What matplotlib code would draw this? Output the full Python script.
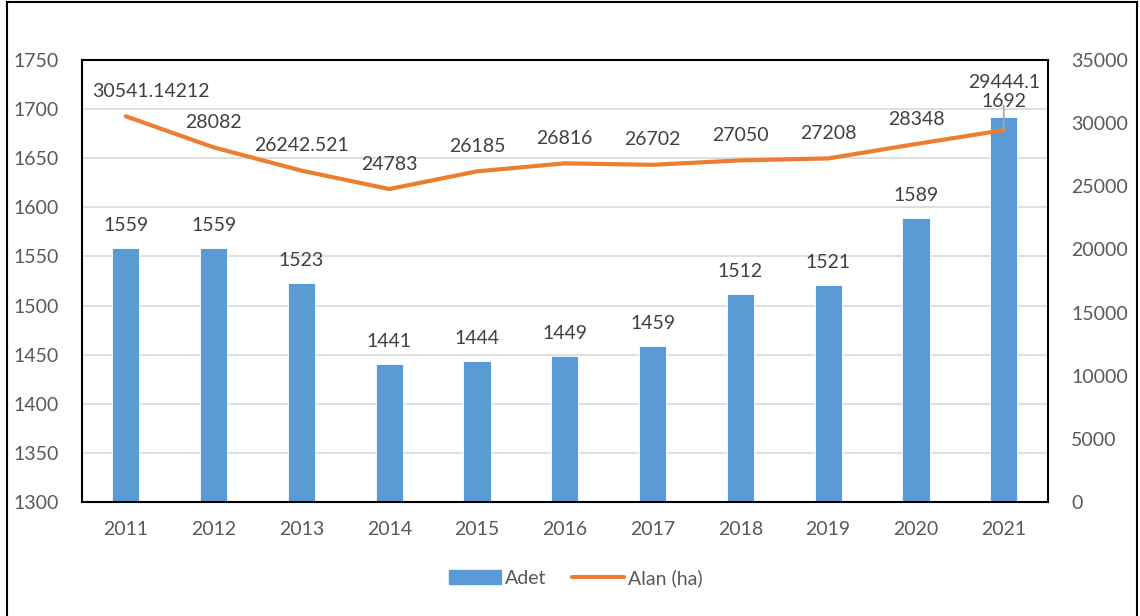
import matplotlib.pyplot as plt
from matplotlib.patches import Rectangle
from matplotlib.lines import Line2D

years = ['2011', '2012', '2013', '2014', '2015', '2016', '2017', '2018', '2019', '2020', '2021']
adet = [1559, 1559, 1523, 1441, 1444, 1449, 1459, 1512, 1521, 1589, 1692]
alan = [30541.14212, 28082, 26242.521, 24783, 26185, 26816, 26702, 27050, 27208, 28348, 29444.1]
alan_labels = ['30541.14212', '28082', '26242.521', '24783', '26185', '26816', '26702',
               '27050', '27208', '28348', '29444.1']

plt.rcParams['font.family'] = ['Lato', 'DejaVu Sans']
grey = '#595959'
blue = '#5b9bd5'
orange = '#ed7d31'
fs = 14

fig = plt.figure(figsize=(11.4, 6.16), dpi=100)
ax = fig.add_axes([0.0719, 0.185, 0.919 - 0.0719, 0.9026 - 0.185])
x = list(range(len(years)))

ax.bar(x, adet, width=0.31, color=blue, edgecolor='white', linewidth=0.6, zorder=2)
ax.set_ylim(1300, 1750)
ax.set_yticks(range(1300, 1751, 50))
ax.set_xlim(-0.5, len(years) - 0.5)
ax.set_xticks(x)
ax.set_xticklabels(years)
ax.grid(axis='y', color='#d9d9d9', linewidth=1.2, zorder=0)
ax.set_axisbelow(True)
ax.tick_params(axis='x', length=0, labelsize=fs, colors=grey, pad=14)
ax.tick_params(axis='y', length=0, labelsize=fs, colors=grey, pad=17)
for s in ax.spines.values():
    s.set_linewidth(1.5)
    s.set_color('black')

for i, v in enumerate(adet):
    off = 11 if i == len(adet) - 1 else 16
    ax.annotate(str(v), (i, v), xytext=(0, off), textcoords='offset points',
                ha='center', va='center', fontsize=fs, color='#404040')

ax2 = ax.twinx()
ax2.plot(x, alan, color=orange, linewidth=3, solid_capstyle='round', zorder=3)
ax2.set_ylim(0, 35000)
ax2.set_yticks(range(0, 35001, 5000))
ax2.tick_params(axis='y', length=0, labelsize=fs, colors=grey, pad=17)
for s in ax2.spines.values():
    s.set_visible(False)

for i, v in enumerate(alan):
    if i == len(alan) - 1:
        ax2.annotate(alan_labels[i], (i, v), xytext=(0, 34), textcoords='offset points',
                     ha='center', va='center', fontsize=fs, color='#404040',
                     arrowprops=dict(arrowstyle='-', color='#a6a6a6', lw=1.2,
                                     shrinkA=8, shrinkB=0))
    else:
        # Excel nudges the first label inside the plot area
        dx = 18 if i == 0 else 0
        ax2.annotate(alan_labels[i], (i, v), xytext=(dx, 18), textcoords='offset points',
                     ha='center', va='center', fontsize=fs, color='#404040')

handles = [Rectangle((0, 0), 1, 1, color=blue),
           Line2D([0], [0], color=orange, linewidth=3, solid_capstyle='round')]
fig.legend(handles, ['Adet', 'Alan (ha)'], loc='center', bbox_to_anchor=(0.505, 0.062),
           ncol=2, frameon=False, fontsize=fs, labelcolor=grey,
           handlelength=2.7, handletextpad=0.2, columnspacing=1.3)

fig.patches.append(Rectangle((7 / 1140, -0.05), 1130 / 1140, 1.05 - 2 / 616,
                             transform=fig.transFigure, fill=False,
                             edgecolor='black', linewidth=1.5))

fig.savefig('out.png', dpi=100)
